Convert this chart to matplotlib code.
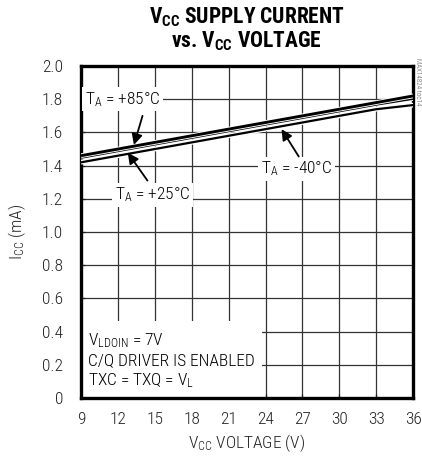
import matplotlib
matplotlib.use("Agg")
import matplotlib.pyplot as plt
import matplotlib.patheffects as pe
from matplotlib import font_manager

names = set(f.name for f in font_manager.fontManager.ttflist)
base = "Roboto"
for cand in ["Roboto Condensed", "Liberation Sans Narrow", "Roboto"]:
    if cand in names:
        base = cand
        break

plt.rcParams["font.family"] = [base, "DejaVu Sans"]
plt.rcParams["font.weight"] = "light"
plt.rcParams["axes.labelweight"] = "light"
plt.rcParams["mathtext.fontset"] = "custom"
plt.rcParams["mathtext.rm"] = base + ":light"
plt.rcParams["mathtext.it"] = base + ":light"
plt.rcParams["mathtext.bf"] = base + ":bold"

# supply voltage (V)
vcc = [9, 12, 15, 18, 21, 24, 27, 30, 33, 36]
# supply current (mA) per ambient temperature
icc_85 = [1.46, 1.50, 1.54, 1.58, 1.62, 1.66, 1.70, 1.74, 1.78, 1.82]
icc_25 = [1.45, 1.49, 1.53, 1.57, 1.61, 1.65, 1.69, 1.73, 1.77, 1.805]
icc_m40 = [1.42, 1.46, 1.50, 1.54, 1.58, 1.62, 1.66, 1.70, 1.74, 1.765]

xticks = [9, 12, 15, 18, 21, 24, 27, 30, 33, 36]
yticks = [0, 0.2, 0.4, 0.6, 0.8, 1.0, 1.2, 1.4, 1.6, 1.8, 2.0]
ytick_labels = ["0", "0.2", "0.4", "0.6", "0.8", "1.0", "1.2", "1.4", "1.6", "1.8", "2.0"]

fig = plt.figure(figsize=(4.22, 4.62), dpi=100)
ax = fig.add_axes([0.192, 0.1385, 0.787, 0.7185])

outline = [pe.Stroke(linewidth=3.4, foreground="white"), pe.Normal()]
for y, lw in [(icc_m40, 1.6), (icc_25, 2.1), (icc_85, 2.1)]:
    ax.plot(vcc, y, color="black", lw=lw, path_effects=outline, zorder=3, solid_capstyle="butt")

ax.set_xlim(9, 36)
ax.set_ylim(0, 2.0)
ax.set_xticks(xticks)
ax.set_yticks(yticks)
ax.set_yticklabels(ytick_labels)
ax.grid(True, color="#333333", lw=0.9)
ax.tick_params(direction="in", length=3, width=0.9, labelsize=12.5, colors="#222222")
ax.tick_params(axis="y", pad=13)
ax.tick_params(axis="x", pad=10)
for s in ax.spines.values():
    s.set_linewidth(2.4)

ax.set_xlabel(r"V$_{\mathregular{CC}}$ VOLTAGE (V)", fontsize=12.5, labelpad=4, color="#222222")
ax.set_ylabel(r"I$_{\mathregular{CC}}$ (mA)", fontsize=12.5, labelpad=10, color="#222222")

fig.text(0.585, 0.962, r"V$_{\mathbf{CC}}$ SUPPLY CURRENT", ha="center", va="center",
         fontsize=15.5, fontweight="bold")
fig.text(0.585, 0.911, r"vs. V$_{\mathbf{CC}}$ VOLTAGE", ha="center", va="center",
         fontsize=15.5, fontweight="bold")

box = dict(facecolor="white", edgecolor="none", pad=2)
arrow = dict(arrowstyle="-|>", color="black", lw=1.3, mutation_scale=16, shrinkA=0, shrinkB=0)

ax.text(12.4, 1.8, r"T$_{\mathregular{A}}$ = +85°C", fontsize=12.5, ha="center", va="center", bbox=box, zorder=4)
ax.annotate("", xy=(13.3, 1.525), xytext=(14.0, 1.70), arrowprops=arrow, zorder=4)

ax.text(14.8, 1.225, r"T$_{\mathregular{A}}$ = +25°C", fontsize=12.5, ha="center", va="center", bbox=box, zorder=4)
ax.annotate("", xy=(12.8, 1.478), xytext=(14.4, 1.31), arrowprops=arrow, zorder=4)

ax.text(26.5, 1.38, r"T$_{\mathregular{A}}$ = -40°C", fontsize=12.5, ha="center", va="center", bbox=box, zorder=4)
ax.annotate("", xy=(25.3, 1.62), xytext=(26.7, 1.455), arrowprops=arrow, zorder=4)

ax.add_patch(plt.Rectangle((9, 0), 14.7, 0.465, facecolor="white", edgecolor="none", zorder=2.5))
ax.text(9.55, 0.40, "V$_{\\mathregular{LDOIN}}$ = 7V\nC/Q DRIVER IS ENABLED\nTXC = TXQ = V$_{\\mathregular{L}}$",
        fontsize=12.5, ha="left", va="top", linespacing=1.22, zorder=4)

fig.text(0.99, 0.875, "MAX14824 toc14", rotation=-90, fontsize=5, color="#555555", ha="center", va="top")

fig.savefig("out.png", dpi=100)
